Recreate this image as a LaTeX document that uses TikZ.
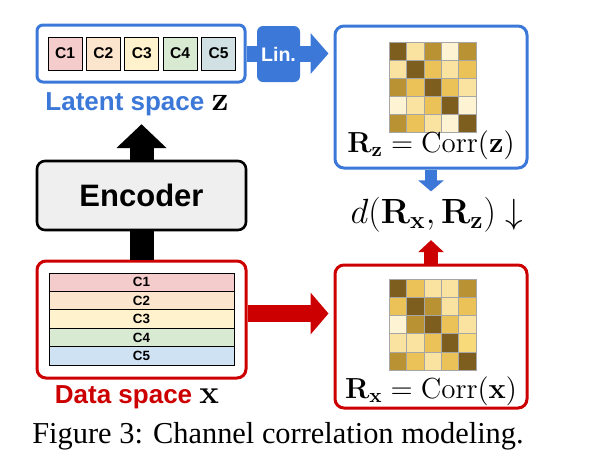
\RequirePackage{fix-cm}
\documentclass[tikz,border=0pt]{standalone}
\usepackage{amsmath}
\usepackage[no-math]{fontspec}
\setmainfont{Liberation Serif}
\setsansfont{Liberation Sans}
\usetikzlibrary{positioning,arrows.meta,calc}

\definecolor{zblue}{HTML}{3C78D8}
\definecolor{xred}{HTML}{CC0000}
\definecolor{encgrey}{HTML}{EFEFEF}
\definecolor{cA}{HTML}{F4CCCC}
\definecolor{cB}{HTML}{FCE5CD}
\definecolor{cC}{HTML}{FFF2CC}
\definecolor{cD}{HTML}{D9EAD3}
\definecolor{cE}{HTML}{D0E0E3}
\definecolor{cF}{HTML}{CFE2F3}
\definecolor{mA}{HTML}{7D5E1F}
\definecolor{mB}{HTML}{B99233}
\definecolor{mC}{HTML}{EAC257}
\definecolor{mD}{HTML}{FAE3A1}
\definecolor{mE}{HTML}{FEF3D3}
\definecolor{mF}{HTML}{F8DA7B}

\begin{document}
\begin{tikzpicture}[x=0.5pt,y=-0.5pt,
box/.style={
  draw,
  rounded corners=4.5pt,
  line width=1.5pt,
  inner sep=0pt},
chan/.style={
  draw,
  line width=0.5pt,
  minimum width=17pt,
  minimum height=16.5pt,
  inner sep=0pt,
  font=\sffamily\bfseries\fontsize{7.8}{8}\selectfont},
row/.style={
  draw,
  line width=0.5pt,
  minimum width=92.5pt,
  minimum height=9.2pt,
  inner sep=0pt,
  font=\sffamily\bfseries\fontsize{6.7}{7}\selectfont},
spacelab/.style={
  anchor=base,
  inner sep=0pt,
  font=\sffamily\bfseries\fontsize{13}{15}\selectfont},
cell/.style={
  draw=gray!70,
  line width=0.3pt}
]
\useasboundingbox (0,0) rectangle (592,472);
% latent space
\node[box, draw=zblue, rounded corners=3pt, minimum width=104pt, minimum height=28.5pt] (latent) at (141,53.5) {};
\foreach \Col [count=\i from 0] in {cA,cB,cC,cD,cE}
  \node[chan, fill=\Col] (z\i) at (65+38.4*\i,53.5) {C\the\numexpr\i+1\relax};
\node[spacelab, text=zblue] (zlab) at (137,110) {Latent space \textcolor{black}{\fontsize{17}{19}\selectfont$\mathbf{z}$}};
% encoder
\node[draw, fill=encgrey, line width=1.3pt, rounded corners=4pt, minimum width=104.5pt, minimum height=34.5pt,
  font=\sffamily\bfseries\fontsize{15.5}{17}\selectfont] (enc) at (141.5,195.5) {Encoder};
% data space
\node[box, draw=xred, minimum width=104.5pt, minimum height=58.5pt] (data) at (141.5,319.5) {};
\foreach \Col [count=\i from 0] in {cA,cB,cC,cD,cF}
  \node[row, fill=\Col] (x\i) at (141.5,282.2+18.4*\i) {C\the\numexpr\i+1\relax};
\node[spacelab, text=xred] (xlab) at (137,403) {Data space \textcolor{black}{\fontsize{16.5}{18}\selectfont$\mathbf{x}$}};
% correlation boxes
\node[box, draw=zblue, minimum width=96pt, minimum height=71pt] (rz) at (431,97) {};
\node[box, draw=xred, minimum width=96pt, minimum height=71.5pt] (rx) at (431,336.5) {};
\foreach \Row [count=\r from 0] in {{mA,mD,mB,mE,mB},{mD,mA,mC,mD,mC},{mB,mC,mA,mC,mD},{mE,mD,mC,mA,mE},{mB,mC,mD,mE,mA}}
  \foreach \Col [count=\c from 0] in \Row
    \filldraw[cell, fill=\Col] (389+17.4*\c,42+18*\r) rectangle ++(17.4,18);
\foreach \Row [count=\r from 0] in {{mA,mC,mD,mD,mB},{mC,mA,mB,mD,mC},{mE,mB,mA,mC,mD},{mD,mD,mC,mA,mF},{mB,mC,mD,mC,mA}}
  \foreach \Col [count=\c from 0] in \Row
    \filldraw[cell, fill=\Col] (389+17.4*\c,279+18.2*\r) rectangle ++(17.4,18.2);
\node[anchor=base, font=\fontsize{14.5}{16}\selectfont] (rzlab) at (431,152) {$\mathbf{R}_{\mathbf{z}} = \mathrm{Corr}(\mathbf{z})$};
\node[anchor=base, font=\fontsize{14.5}{16}\selectfont] (rxlab) at (431,398) {$\mathbf{R}_{\mathbf{x}} = \mathrm{Corr}(\mathbf{x})$};
\node[anchor=base, inner sep=0pt, font=\fontsize{17.5}{19}\selectfont] (dist) at (437,223) {$d(\mathbf{R}_{\mathbf{x}}, \mathbf{R}_{\mathbf{z}}) \downarrow$};
% arrows
\draw[line width=8pt, zblue, -{Triangle[length=9pt,width=20pt]}, shorten >=2.5pt] (latent.east) -- (latent.east -| rz.west);
\node[fill=zblue, rounded corners=3pt, minimum width=21.5pt, minimum height=28pt, inner sep=0pt, text=white,
  font=\sffamily\bfseries\fontsize{9.8}{11}\selectfont] (lin) at (278.5,54) {Lin.};
\coordinate (xout) at ([yshift=3pt]data.east);
\draw[line width=8.5pt, xred, -{Triangle[length=9pt,width=20.5pt]}, shorten >=2.5pt] (xout) -- (xout -| rx.west);
\draw[line width=12pt] (data.north) -- (enc.south);
\draw[line width=12pt, -{Triangle[length=12pt,width=24.5pt]}, shorten >=4.2pt] (enc.north) -- (enc.north |- zlab.south);
\draw[line width=6pt, zblue, -{Triangle[length=5.5pt,width=12.5pt]}, shorten >=2.5pt] (rz.south) -- (rz.south |- dist.north);
\draw[line width=7pt, xred, -{Triangle[length=6pt,width=12.5pt]}, shorten >=4pt] (rx.north) -- (rx.north |- dist.south);
\node[anchor=base, font=\fontsize{15.2}{17}\selectfont] (cap) at (278,443) {Figure 3: Channel correlation modeling.};
\end{tikzpicture}
\end{document}
